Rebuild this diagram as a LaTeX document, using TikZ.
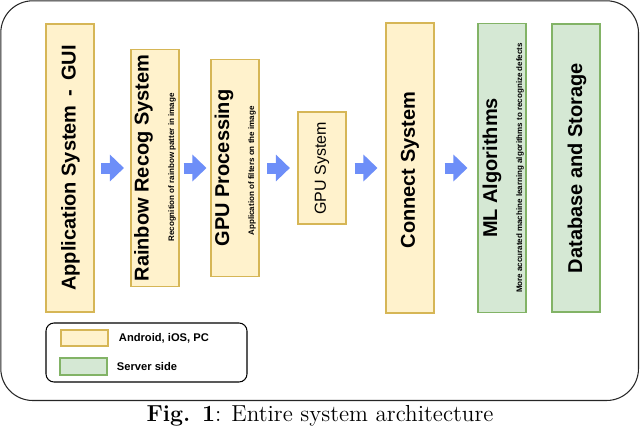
\documentclass[tikz,border=0pt]{standalone}
\usepackage{fontspec}
\newfontfamily\arialfont{Liberation Sans}
\usetikzlibrary{arrows.meta,positioning}

\definecolor{clientfill}{HTML}{FFF2CC}
\definecolor{clientline}{HTML}{D6B656}
\definecolor{serverfill}{HTML}{D5E8D4}
\definecolor{serverline}{HTML}{82B366}
\definecolor{flowblue}{HTML}{6D8EF8}

% one pixel of the layout
\newcommand\pix[1]{\fpeval{#1*0.475}pt}

\tikzset{
    client/.style={draw=clientline, fill=clientfill, line width=0.5pt, inner sep=0pt,
                   minimum width=\pix{48}, minimum height=#1},
    server/.style={client=#1, draw=serverline, fill=serverfill},
    title/.style={rotate=90, inner sep=0pt, font=\arialfont\bfseries\fontsize{9.5}{11}\selectfont},
    note/.style={rotate=90, inner sep=0pt, font=\arialfont\bfseries\fontsize{3.8}{4.5}\selectfont},
    flow/.style={draw=flowblue, line width=\pix{11}, -{Triangle[length=\pix{14}, width=\pix{26}]}},
    keytext/.style={inner sep=0pt, font=\arialfont\bfseries\fontsize{5.3}{6}\selectfont},
}

\begin{document}
\begin{tikzpicture}[x=0.475pt, y=-0.475pt]
    \useasboundingbox (0,0) rectangle (640,433);
    \draw[rounded corners=\pix{32}, line width=0.5pt, draw=black!85] (0.8,0.8) rectangle (638.5,400.5);

    % layers
    \node[client=\pix{288}] (app)     at (70,168)  {};
    \node[client=\pix{237}] (rainbow) at (155,168) {};
    \node[client=\pix{217}] (gpuproc) at (235,168) {};
    \node[client=\pix{112}] (gpusys)  at (322,168) {};
    \node[client=\pix{290}] (connect) at (410,168) {};
    \node[server=\pix{289}] (ml)      at (502,168) {};
    \node[server=\pix{288}] (db)      at (576,168) {};

    \node[title] (appT)     at (70.5,168)  {Application System \,-\, GUI};
    \node[title] (rainbowT) at (143.5,168) {Rainbow Recog System};
    \node[note]  (rainbowN) at (172,167.5) {Recognition of rainbow patter in image};
    \node[title] (gpuprocT) at (224,168)   {GPU Processing};
    \node[note]  (gpuprocN) at (252,171)   {Application of filters on the image};
    \node[title, font=\arialfont\fontsize{7.6}{9}\selectfont] (gpusysT) at (322,168.5) {GPU System};
    \node[title] (connectT) at (410,170)   {Connect System};
    \node[title] (mlT)      at (492,168)   {ML Algorithms};
    \node[note]  (mlN)      at (520,168)   {More accurated machine learning algorithms to recognize defects};
    \node[title] (dbT)      at (577,168)   {Database and Storage};

    % block arrows between the layers
    \foreach \a/\b/\s in {app/rainbow/3.1pt, rainbow/gpuproc/1.9pt, gpuproc/gpusys/3.6pt,
                          gpusys/connect/3.8pt, connect/ml/4.75pt}
        \draw[flow, shorten <=\s, shorten >=\s] (\a) -- (\b);

    % legend
    \node[draw, line width=0.5pt, rounded corners=\pix{8}, minimum width=\pix{201},
          minimum height=\pix{59}] (legend) at (146.5,352.5) {};
    \node[client=\pix{16}, minimum width=\pix{47}] (keyClient) at (84.5,338) {};
    \node[server=\pix{17}, minimum width=\pix{47}] (keyServer) at (83.5,366.5) {};
    \node[keytext, right=\pix{10} of keyClient] (keyClientT) {Android, iOS, PC};
    \node[keytext, right=\pix{9} of keyServer]  (keyServerT) {Server side};

    \node[font=\fontsize{11}{13}\selectfont] (caption) at (320,416) {\textbf{Fig. 1}: Entire system architecture};
\end{tikzpicture}
\end{document}
